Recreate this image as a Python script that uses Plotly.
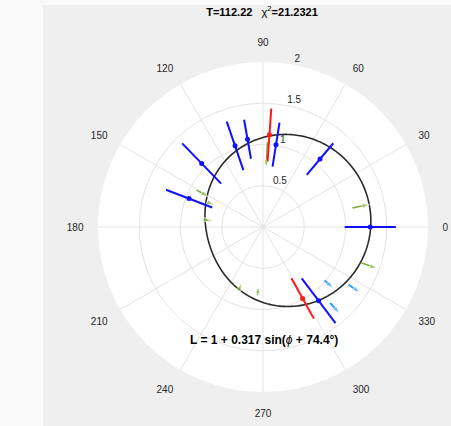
import numpy as np
import plotly.graph_objects as go

# ---- data ----
blue_theta = [0, 50, 81, 100, 109, 134, 159, 307]
blue_r     = [1.30, 1.075, 1.01, 1.08, 1.04, 1.07, 0.96, 1.12]
blue_err   = [0.31, 0.25, 0.27, 0.24, 0.31, 0.34, 0.30, 0.34]

red_theta = [86, 299]
red_r     = [1.12, 0.99]
red_err   = [0.32, 0.28]

# light-blue short arrows (start radius, end radius)
cyan_theta = [319, 311.5, 326]
cyan_r0    = [0.99, 1.23, 1.25]
cyan_r1    = [1.13, 1.40, 1.42]

# green short arrows (start radius, end radius)
green_theta = [87, 151, 156, 173, 12, 340, 249, 265.5]
green_r0    = [1.03, 0.92, 0.74, 0.72, 1.11, 1.27, 0.83, 0.83]
green_r1    = [0.72, 0.76, 0.65, 0.64, 1.32, 1.47, 0.73, 0.72]

fit_A = 0.317
fit_phase = 74.4
title_T = "112.22"
title_chi2 = "21.2321"

r_ticks = [0.5, 1, 1.5, 2]
r_ticktext = ["0.5", "1", "1.5", "2"]
r_label_angle = 80
theta_ticks = list(range(0, 360, 30))

fig = go.Figure()

# fitted curve
phi = np.arange(0, 361, 1)
L = 1 + fit_A * np.sin(np.deg2rad(phi + fit_phase))
fig.add_trace(go.Scatterpolar(r=L, theta=phi, mode="lines",
                              line=dict(color="#2b2b2b", width=1.6),
                              hoverinfo="skip", showlegend=False))

def bars(theta, r, err, color):
    rr, tt = [], []
    for t, v, e in zip(theta, r, err):
        rr += [v - e, v + e, None]
        tt += [t, t, None]
    fig.add_trace(go.Scatterpolar(r=rr, theta=tt, mode="lines",
                                  line=dict(color=color, width=2),
                                  showlegend=False, hoverinfo="skip"))
    fig.add_trace(go.Scatterpolar(r=r, theta=theta, mode="markers",
                                  marker=dict(color=color, size=5),
                                  showlegend=False))

def arrows(theta, r0, r1, color, width, size):
    for t, a, b in zip(theta, r0, r1):
        fig.add_trace(go.Scatterpolar(
            r=[a, b], theta=[t, t], mode="lines+markers",
            line=dict(color=color, width=width),
            marker=dict(symbol=["circle", "arrow"], size=[0, size],
                        angleref="previous", color=color),
            showlegend=False, hoverinfo="skip"))

arrows(green_theta, green_r0, green_r1, "#77AC30", 1.5, 8)
bars(blue_theta, blue_r, blue_err, "#1010ff")
bars(red_theta, red_r, red_err, "#ff1a1a")
arrows(cyan_theta, cyan_r0, cyan_r1, "#2f9cff", 2, 8)

# radial tick labels (placed along the 80 degree direction, as in the reference)
fig.add_trace(go.Scatterpolar(r=r_ticks, theta=[r_label_angle] * len(r_ticks),
                              mode="text", text=["\u00a0" + t for t in r_ticktext],
                              textposition="top right", cliponaxis=False,
                              textfont=dict(size=10, color="#262626"),
                              showlegend=False, hoverinfo="skip"))

W, H = 451, 426
cx, cy, R = 263, 227, 165
fig.update_layout(
    width=W, height=H,
    margin=dict(l=0, r=0, t=0, b=0),
    paper_bgcolor="#fafafa",
    font=dict(family="Liberation Sans, Arial, sans-serif", size=10, color="#262626"),
    shapes=[dict(type="rect", xref="paper", yref="paper",
                 x0=43 / W, x1=1, y0=0, y1=1 - 5 / H,
                 fillcolor="#efefef", line=dict(width=0), layer="below")],
    polar=dict(
        domain=dict(x=[(cx - R) / W, (cx + R) / W],
                    y=[(H - cy - R) / H, (H - cy + R) / H]),
        bgcolor="white",
        radialaxis=dict(range=[0, 2], tickvals=r_ticks,
                        showticklabels=False,
                        angle=r_label_angle,
                        showline=False, ticks="",
                        gridcolor="#e3e3e3", gridwidth=1),
        angularaxis=dict(direction="counterclockwise", rotation=0,
                         tickvals=theta_ticks,
                         ticktext=[str(t) for t in theta_ticks],
                         showline=False, ticks="outside", ticklen=12,
                         tickcolor="rgba(0,0,0,0)",
                         gridcolor="#e3e3e3", gridwidth=1,
                         tickfont=dict(size=10, color="#262626")),
    ),
    title=dict(text="<b>T=" + title_T + "</b>   χ<sup>2</sup><b>=" + title_chi2 + "</b>",
               x=262 / W, y=1 - 12 / H, xanchor="center", yanchor="middle",
               font=dict(size=11, color="black")),
    annotations=[dict(text="<b>L = 1 + " + str(fit_A) + " sin(</b><i>ϕ</i><b> + " + str(fit_phase) + "°)</b>",
                      x=264 / W, y=1 - 340 / H, xref="paper", yref="paper",
                      xanchor="center", yanchor="middle",
                      showarrow=False, font=dict(size=12, color="black"))],
)

fig.write_html("out.html")
